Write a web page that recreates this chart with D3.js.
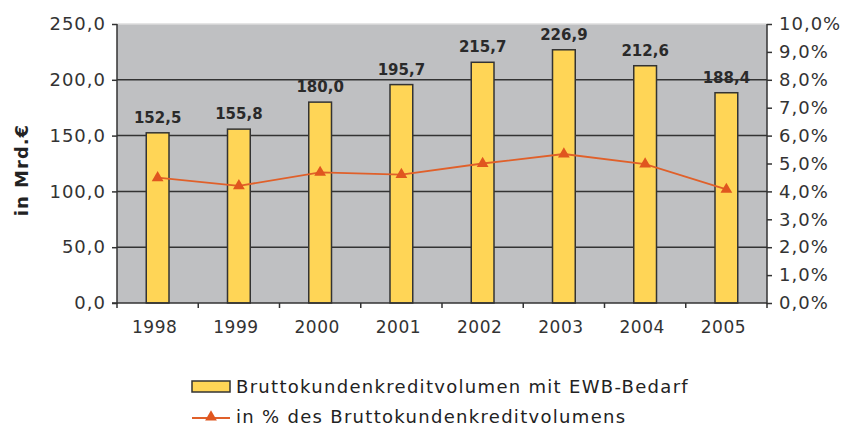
<!DOCTYPE html>
<html><head><meta charset="utf-8">
<script src="https://cdn.jsdelivr.net/npm/d3@7"></script>
<style>body{margin:0;background:#fff}svg{display:block}</style>
</head><body>
<svg id="c" width="854" height="427"></svg>
<script>
const years = ["1998","1999","2000","2001","2002","2003","2004","2005"];
const volumes = [152.5,155.8,180.0,195.7,215.7,226.9,212.6,188.4];
const percents = [4.49,4.2,4.68,4.6,5.0,5.34,4.98,4.07];
const leftTicks = [0,50,100,150,200,250];
const rightTicks = [0,1,2,3,4,5,6,7,8,9,10];
const seriesNames = ["Bruttokundenkreditvolumen mit EWB-Bedarf","in % des Bruttokundenkreditvolumens"];
const yLabel = "in Mrd.€";

const svg = d3.select("#c");
const L=117,R=767,T=24,B=303;
const font = "'DejaVu Sans', Verdana, sans-serif";
const fmt = v => d3.format(".1f")(v).replace(".",",");

const x = d3.scaleBand().domain(years).range([L,R]).paddingInner(0.72).paddingOuter(0.36);
const y = d3.scaleLinear().domain([0,250]).range([B,T]);
const y2 = d3.scaleLinear().domain([0,10]).range([B,T]);

svg.append("rect").attr("x",L).attr("y",T).attr("width",R-L).attr("height",B-T).attr("fill","#BFC0C2");

// gridlines
svg.append("g").selectAll("line").data(leftTicks.filter(d=>d>0)).join("line")
  .attr("x1",L).attr("x2",R).attr("y1",d=>y(d)).attr("y2",d=>y(d))
  .attr("stroke",d=>d===250?"#dcdcdc":"#333").attr("stroke-width",1.5);

// bars
svg.append("g").selectAll("rect").data(volumes).join("rect")
  .attr("x",(d,i)=>x(years[i])).attr("width",x.bandwidth())
  .attr("y",d=>y(d)).attr("height",d=>B-y(d))
  .attr("fill","#FFD556").attr("stroke","#333").attr("stroke-width",1.5);

// bar labels
svg.append("g").selectAll("text").data(volumes).join("text")
  .attr("x",(d,i)=>x(years[i])+x.bandwidth()/2).attr("y",d=>y(d)-10)
  .attr("text-anchor","middle").attr("font-family",font).attr("font-weight","bold")
  .attr("font-size",15).attr("fill","#2a2a2a").text(d=>fmt(d));

// line
const cx = i => x(years[i])+x.bandwidth()/2;
svg.append("path").datum(percents)
  .attr("d",d3.line().x((d,i)=>cx(i)).y(d=>y2(d)))
  .attr("fill","none").attr("stroke","#E0602A").attr("stroke-width",1.8);
const tri = d3.symbol().type(d3.symbolTriangle).size(60);
svg.append("g").selectAll("path").data(percents).join("path")
  .attr("d",tri).attr("transform",(d,i)=>`translate(${cx(i)},${y2(d)})`)
  .attr("fill","#E0561F");

// axes
const axL = svg.append("g").attr("transform",`translate(${L},0)`)
  .call(d3.axisLeft(y).tickValues(leftTicks).tickFormat(fmt).tickSize(5).tickPadding(7));
const axR = svg.append("g").attr("transform",`translate(${R},0)`)
  .call(d3.axisRight(y2).tickValues(rightTicks).tickFormat(d=>fmt(d)+"%").tickSize(5).tickPadding(7));
const axB = svg.append("g").attr("transform",`translate(0,${B})`)
  .call(d3.axisBottom(x).tickSize(0).tickPadding(18));
[axL,axR,axB].forEach(a=>{
  a.selectAll("text").attr("font-family",font).attr("font-size",18).attr("letter-spacing",1).attr("fill","#333");
  a.selectAll("line,path").attr("stroke","#333").attr("stroke-width",1.5);
});
axL.selectAll("text").attr("dx",1);
axL.select(".domain").attr("d",`M0,${B+1}V${T}`);
axR.select(".domain").attr("d",`M0,${B+1}V${T}`);
axB.select(".domain").attr("d",`M${L-5},0H${R}`);
axB.selectAll("text").attr("font-size",17).attr("letter-spacing",0.5).attr("dx",-3);
// category boundary ticks
const bounds = d3.range(years.length+1).map(i=>L+i*x.step());
svg.append("g").selectAll("line").data(bounds).join("line")
  .attr("x1",d=>d).attr("x2",d=>d).attr("y1",B).attr("y2",B+5)
  .attr("stroke","#333").attr("stroke-width",1.5);

// y label
svg.append("text").attr("transform","translate(28,170) rotate(-90)")
  .attr("text-anchor","middle").attr("font-family",font).attr("font-weight","bold")
  .attr("font-size",18).attr("letter-spacing",1).attr("fill","#222").text(yLabel);

// legend
const lg = svg.append("g").attr("font-family",font).attr("font-size",18).attr("letter-spacing",1.3).attr("fill","#222");
lg.append("rect").attr("x",192).attr("y",381).attr("width",38).attr("height",11)
  .attr("fill","#FFD556").attr("stroke","#333").attr("stroke-width",1.5);
lg.append("text").attr("x",236).attr("y",393).text(seriesNames[0]);
lg.append("line").attr("x1",192).attr("x2",230).attr("y1",418).attr("y2",418)
  .attr("stroke","#E0602A").attr("stroke-width",1.8);
lg.append("path").attr("d",tri).attr("transform","translate(211,417)").attr("fill","#E0561F");
lg.append("text").attr("x",236).attr("y",423).text(seriesNames[1]);
</script>
</body></html>
